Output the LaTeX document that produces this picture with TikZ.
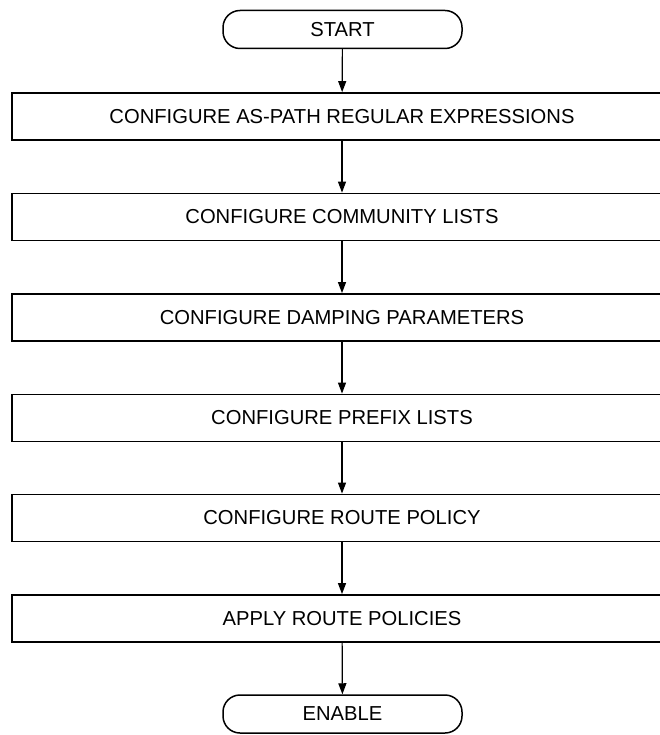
\documentclass[tikz,border=0pt]{standalone}
\usepackage{fontspec}
\setmainfont{Liberation Sans}
\usetikzlibrary{arrows.meta}

\begin{document}
\begin{tikzpicture}[x=1pt, y=1pt,
    step box/.style={draw, line width=1.8pt, minimum width=660pt, minimum height=47pt,
      inner sep=0pt, font=\fontsize{20.2pt}{24pt}\selectfont},
    terminal/.style={draw, line width=1.5pt, rounded corners=17pt, minimum width=239pt,
      minimum height=38pt, inner sep=0pt, font=\fontsize{20.2pt}{24pt}\selectfont},
    flow/.style={-{Triangle[length=11pt, width=8pt]}, line width=1.2pt}]

      \useasboundingbox (0, 0) rectangle (660, -735);

      % Start and end
      \node[terminal] (start) at (342.5, -29.5) {START};
      \node[terminal] (enable) at (342.5, -714) {ENABLE};

      % Steps
      \node[step box] (aspath)    at (342, -116.5) {CONFIGURE AS-PATH REGULAR EXPRESSIONS};
      \node[step box] (community) at (342, -217)   {CONFIGURE COMMUNITY LISTS};
      \node[step box] (damping)   at (342, -317.5) {CONFIGURE DAMPING PARAMETERS};
      \node[step box] (prefix)    at (342, -418)   {CONFIGURE PREFIX LISTS};
      \node[step box] (policy)    at (342, -518)   {CONFIGURE ROUTE POLICY};
      \node[step box] (apply)     at (342, -618.5) {APPLY ROUTE POLICIES};

      %\draw (start) -- (aspath);

      \draw[flow] (start) -- (aspath);
      \draw[flow] (aspath) -- (community);
      \draw[flow] (community) -- (damping);
      \draw[flow] (damping) -- (prefix);
      \draw[flow] (prefix) -- (policy);
      \draw[flow] (policy) -- (apply);
      \draw[flow] (apply) -- (enable);
\end{tikzpicture}
\end{document}
